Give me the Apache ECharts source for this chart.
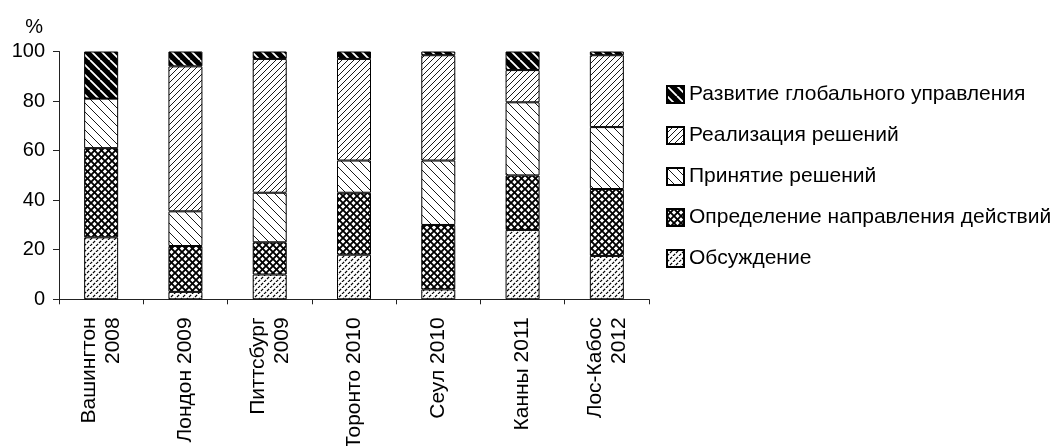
<!DOCTYPE html>
<html>
<head>
<meta charset="utf-8">
<script src="https://cdn.jsdelivr.net/npm/echarts@6/dist/echarts.min.js"></script>
<style>
html,body{margin:0;padding:0;background:#fff;}
#chart{width:1061px;height:446px;}
</style>
</head>
<body>
<div id="chart"></div>
<script>
// ---- data ----
var categories = ['Вашингтон\n2008', 'Лондон 2009', 'Питтсбург\n2009', 'Торонто 2010', 'Сеул 2010', 'Канны 2011', 'Лос-Кабос\n2012'];
var seriesNames = ['Обсуждение', 'Определение направления действий', 'Принятие решений', 'Реализация решений', 'Развитие глобального управления'];
var obsuzhdenie = [25, 3, 10, 18, 4, 28, 17.5];
var opredelenie = [36, 18.5, 13, 25, 26, 22, 27];
var prinyatie   = [20, 14, 20, 13, 26, 29.5, 25];
var realizaciya = [0, 58.5, 54, 41, 42.5, 13, 29];
var razvitie    = [19, 6, 3, 3, 1.5, 7.5, 1.5];
var yTicks = [0, 20, 40, 60, 80, 100];

// ---- patterns ----
function tile(size, bg, draw) {
  var c = document.createElement('canvas');
  c.width = size; c.height = size;
  var ctx = c.getContext('2d');
  ctx.fillStyle = bg; ctx.fillRect(0, 0, size, size);
  draw(ctx, size);
  return { image: c, repeat: 'repeat' };
}
function slash(ctx, s) { // '/'
  ctx.beginPath();
  for (var k = -1; k <= 1; k++) { ctx.moveTo(k * s, s); ctx.lineTo(k * s + s, 0); }
  ctx.stroke();
}
function back(ctx, s) { // '\'
  ctx.beginPath();
  for (var k = -1; k <= 1; k++) { ctx.moveTo(k * s, 0); ctx.lineTo(k * s + s, s); }
  ctx.stroke();
}
var patRazvitie = tile(10, '#000', function (ctx, s) { ctx.strokeStyle = '#fff'; ctx.lineWidth = 1.8; back(ctx, s); });
var patRealiz = tile(6, '#fff', function (ctx, s) { ctx.strokeStyle = '#000'; ctx.lineWidth = 0.9; slash(ctx, s); });
var patPrinyat = tile(9, '#fff', function (ctx, s) { ctx.strokeStyle = '#000'; ctx.lineWidth = 0.9; back(ctx, s); });
var patOpred = tile(7, '#fff', function (ctx, s) { ctx.strokeStyle = '#000'; ctx.lineWidth = 1.9; slash(ctx, s); back(ctx, s); });
var patObsuzh = tile(6, '#fff', function (ctx, s) {
  ctx.strokeStyle = '#000'; ctx.lineWidth = 1.2;
  var L = s * Math.SQRT2 / 2;
  ctx.setLineDash([L * 0.72, L * 0.28]);
  slash(ctx, s);
});

var FONT = '"Liberation Sans", Arial, Helvetica, sans-serif';
var AX = '#222';
var values = [obsuzhdenie, opredelenie, prinyatie, realizaciya, razvitie];
var pats = [patObsuzh, patOpred, patPrinyat, patRealiz, patRazvitie];

var chart = echarts.init(document.getElementById('chart'), null, { renderer: 'canvas' });
var series = seriesNames.map(function (n, i) {
  return {
    name: n, type: 'bar', stack: 'total', barWidth: 34,
    data: values[i],
    itemStyle: { color: pats[i], borderColor: '#000', borderWidth: 1 },
    emphasis: { disabled: true }
  };
});

chart.setOption({
  animation: false,
  backgroundColor: '#fff',
  textStyle: { fontFamily: FONT, color: '#000' },
  grid: { left: 59, right: 412, top: 51.5, bottom: 146.7, containLabel: false, outerBoundsMode: 'none' },
  legend: {
    orient: 'vertical', left: 666, top: 84, padding: 0,
    icon: 'rect',
    itemWidth: 17, itemHeight: 17, itemGap: 20,
    data: seriesNames.slice().reverse(),
    textStyle: { fontSize: 21, fontFamily: FONT, color: '#000' },
    selectedMode: false
  },
  xAxis: {
    type: 'category', data: categories,
    axisLine: { lineStyle: { color: AX, width: 1 } },
    axisTick: { show: true, length: 5, alignWithLabel: false, lineStyle: { color: AX } },
    axisLabel: { rotate: 90, margin: 18, fontSize: 21, lineHeight: 24, fontFamily: FONT, color: '#000', interval: 0 }
  },
  yAxis: {
    type: 'value', min: 0, max: 100, interval: 20,
    name: '%', nameLocation: 'end', nameGap: 14,
    nameTextStyle: { fontSize: 20, fontFamily: FONT, color: '#000', align: 'right', padding: [0, 16, 0, 0] },
    axisLine: { show: true, lineStyle: { color: AX, width: 1 } },
    axisTick: { show: true, length: 6, lineStyle: { color: AX } },
    axisLabel: { fontSize: 20, fontFamily: FONT, color: '#000', margin: 14,
      formatter: function (v) { return yTicks.indexOf(v) >= 0 ? String(v) : ''; } },
    splitLine: { show: false }
  },
  series: series
});
</script>
</body>
</html>
